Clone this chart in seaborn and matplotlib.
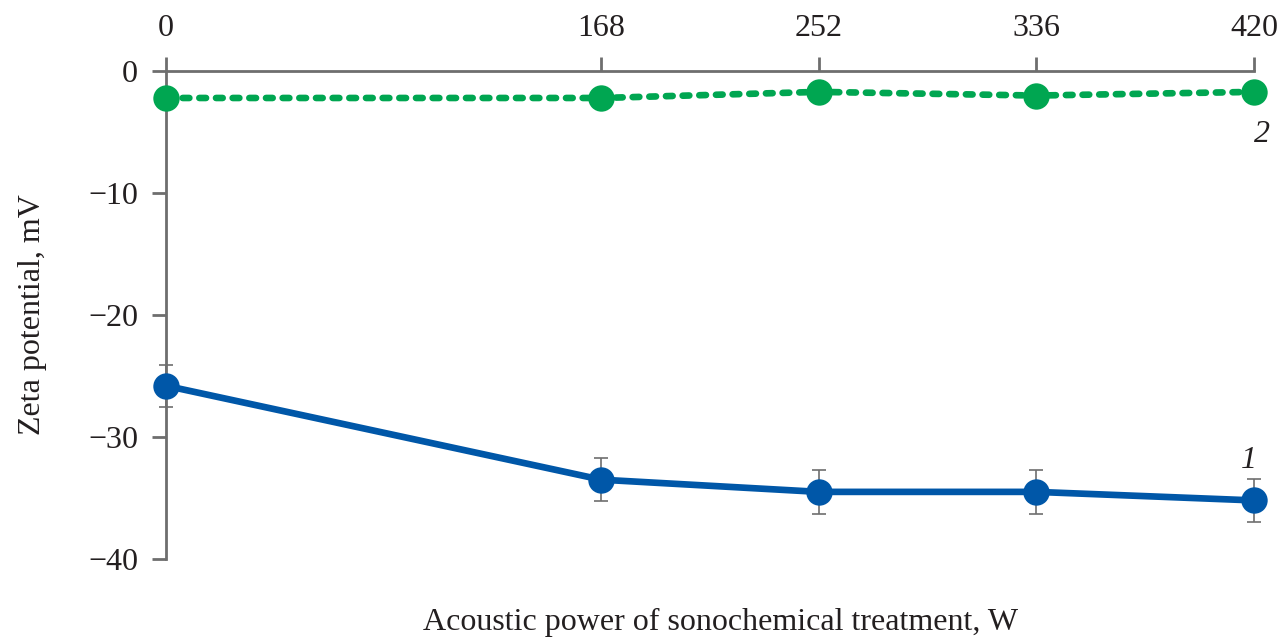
import matplotlib
matplotlib.use("Agg")
import matplotlib.pyplot as plt
import seaborn as sns
import pandas as pd

power = [0, 168, 252, 336, 420]
zeta_1 = [-25.8, -33.5, -34.5, -34.5, -35.2]
err_1 = [1.7, 1.75, 1.8, 1.8, 1.75]
zeta_2 = [-2.2, -2.2, -1.7, -2.0, -1.7]

blue = "#0057a8"
green = "#00a651"
grey = "#6e6e6e"
txt = "#231f20"
fs = 23

sns.set_theme(style="white")
plt.rcParams['font.family'] = ['Liberation Serif', 'DejaVu Serif']

fig = plt.figure(figsize=(12.79, 6.41), dpi=100)
ax = fig.add_axes([0.1298, 0.128, 0.9804 - 0.1298, 0.889 - 0.128])

df1 = pd.DataFrame({"x": power, "y": zeta_1})
df2 = pd.DataFrame({"x": power, "y": zeta_2})

ax.errorbar(power, zeta_1, yerr=err_1, fmt="none", ecolor=grey, elinewidth=1.2,
            capsize=5, capthick=1.2, clip_on=False, zorder=2)
sns.lineplot(data=df1, x="x", y="y", ax=ax, color=blue, lw=4.8, marker="o",
             markersize=19, markeredgewidth=0, clip_on=False, zorder=3)
sns.lineplot(data=df2, x="x", y="y", ax=ax, color=green, lw=4.8, marker="o",
             markersize=19, markeredgewidth=0, clip_on=False, zorder=3)
line2 = ax.lines[-1]
line2.set_dashes((1.0, 1.5))
line2.set_dash_capstyle("round")

ax.set_xlim(0, 420)
ax.set_ylim(-40, 0)
ax.xaxis.tick_top()
ax.set_xticks(power)
ax.set_xticklabels([str(p) for p in power])
ax.set_yticks([0, -10, -20, -30, -40])
ax.set_yticklabels(["0", "\u221210", "\u221220", "\u221230", "\u221240"])

for s in ["right", "bottom"]:
    ax.spines[s].set_visible(False)
for s in ["left", "top"]:
    ax.spines[s].set_color(grey)
    ax.spines[s].set_linewidth(2)

ax.tick_params(axis="both", which="major", direction="out", length=10, width=2,
               color=grey, labelsize=fs, labelcolor=txt)
ax.tick_params(axis="x", top=True, bottom=False, labeltop=True, labelbottom=False, pad=10)
ax.tick_params(axis="y", left=True, pad=10)

ax.set_xlabel("")
ax.set_ylabel("Zeta potential, mV", fontsize=fs, color=txt, labelpad=30)
fig.text(0.5634, 0.006, "Acoustic power of sonochemical treatment, W", ha="center",
         va="bottom", fontsize=fs, color=txt)

ax.text(418, -31.9, "1", fontsize=fs, style="italic", color=txt, ha="center", va="center")
ax.text(423, -5.2, "2", fontsize=fs, style="italic", color=txt, ha="center", va="center")

ax.grid(False)
fig.savefig("out.png", dpi=100)
